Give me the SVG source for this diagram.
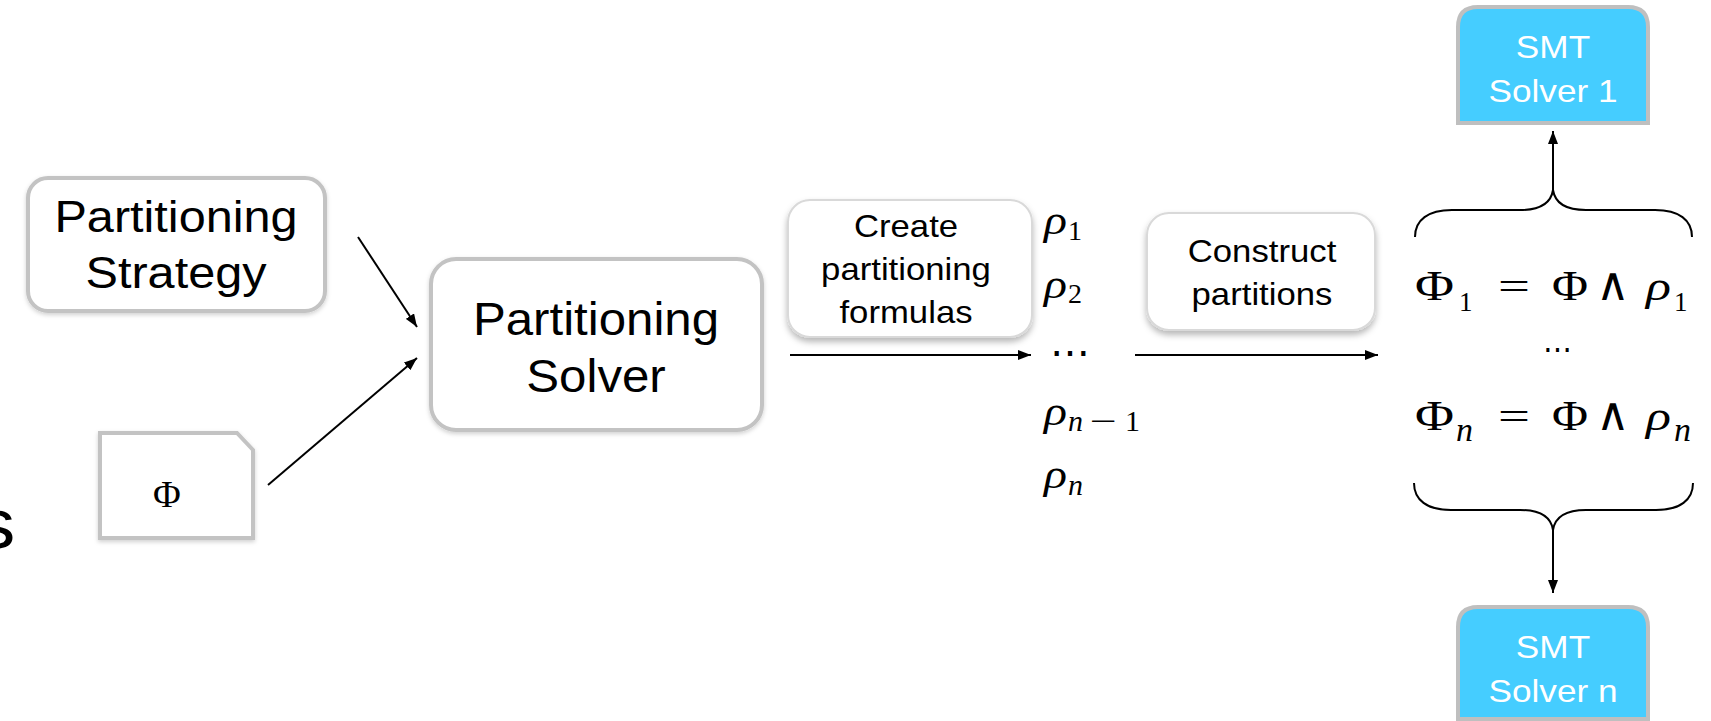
<svg xmlns="http://www.w3.org/2000/svg" width="1711" height="721" viewBox="0 0 1711 721">
<defs>
<style>
.box{fill:#fff;stroke:#c3c3c3;stroke-width:4}
.sbox{fill:#fff;stroke:#d9d9d9;stroke-width:2}
.smt{fill:#45cdff;stroke:#bfbfbf;stroke-width:4}
.t{font-family:"Liberation Sans",Arial,sans-serif;fill:#000;text-anchor:middle}
.w{fill:#fff}
.m{font-family:"Liberation Serif","DejaVu Serif",serif;fill:#000}
.i{font-style:italic}
.c{fill:none;stroke:#000;stroke-width:2}
</style>
<filter id="sh" x="-10%" y="-10%" width="120%" height="130%"><feDropShadow dx="0" dy="4" stdDeviation="3" flood-color="#000" flood-opacity="0.28"/></filter>
<filter id="sh2" x="-10%" y="-10%" width="120%" height="130%"><feDropShadow dx="0" dy="2" stdDeviation="2" flood-color="#000" flood-opacity="0.18"/></filter>
<marker id="ah" markerUnits="userSpaceOnUse" markerWidth="13" markerHeight="10" refX="13" refY="5" orient="auto"><path d="M0,0 L13,5 L0,10 z" fill="#000"/></marker>
</defs>

<text class="t" font-size="70" transform="matrix(1.1 0 0 1 -4 0)" x="0" y="548">s</text>

<g id="strategy">
<rect class="box" x="28" y="178" width="297" height="133" rx="20" filter="url(#sh2)"/>
<text class="t" font-size="45" transform="matrix(1.08 0 0 1 176 0)"><tspan x="0" y="232">Partitioning</tspan><tspan x="0" y="288">Strategy</tspan></text>
</g>

<g id="phi">
<path class="box" d="M100,433 L237,433 L253,450 L253,538 L100,538 Z" stroke-width="5" filter="url(#sh2)"/>
<text class="m" font-size="38" x="167" y="507" text-anchor="middle">Φ</text>
</g>

<g id="solver">
<rect class="box" x="431" y="259" width="331" height="171" rx="25" filter="url(#sh2)"/>
<text class="t" font-size="46" transform="matrix(1.07 0 0 1 596 0)"><tspan x="0" y="335">Partitioning</tspan><tspan x="0" y="392">Solver</tspan></text>
</g>

<g id="create">
<rect class="sbox" x="788" y="200" width="244" height="137" rx="22" filter="url(#sh)"/>
<text class="t" font-size="31" transform="matrix(1.12 0 0 1 906 0)"><tspan x="0" y="237">Create</tspan><tspan x="0" y="280">partitioning</tspan><tspan x="0" y="323">formulas</tspan></text>
</g>

<g id="rhos">
<text class="m i" font-size="40" x="1044" y="234" textLength="23" lengthAdjust="spacingAndGlyphs">ρ</text><text class="m" font-size="28" x="1068" y="240">1</text>
<text class="m i" font-size="40" x="1044" y="298" textLength="23" lengthAdjust="spacingAndGlyphs">ρ</text><text class="m" font-size="28" x="1068" y="303">2</text>
<text class="m" font-size="40" x="1070" y="366" text-anchor="middle" textLength="40" lengthAdjust="spacingAndGlyphs">⋯</text>
<text class="m i" font-size="40" x="1044" y="425" textLength="23" lengthAdjust="spacingAndGlyphs">ρ</text>
<text class="m i" font-size="30" x="1068" y="431">n</text>
<text class="m" font-size="30" x="1090" y="431" textLength="27" lengthAdjust="spacingAndGlyphs">−</text>
<text class="m" font-size="30" x="1125" y="431">1</text>
<text class="m i" font-size="40" x="1044" y="488" textLength="23" lengthAdjust="spacingAndGlyphs">ρ</text><text class="m i" font-size="30" x="1068" y="495">n</text>
</g>

<g id="construct">
<rect class="sbox" x="1147" y="213" width="228" height="117" rx="22" filter="url(#sh)"/>
<text class="t" font-size="31" transform="matrix(1.12 0 0 1 1262 0)"><tspan x="0" y="262">Construct</tspan><tspan x="0" y="305">partitions</tspan></text>
</g>

<g id="formulas">
<text class="m" font-size="43" x="1415" y="300" textLength="39" lengthAdjust="spacingAndGlyphs">Φ</text>
<text class="m" font-size="27" x="1459" y="311">1</text>
<text class="m" font-size="40" x="1498" y="300" textLength="32" lengthAdjust="spacingAndGlyphs">=</text>
<text class="m" font-size="43" x="1552" y="300" textLength="36" lengthAdjust="spacingAndGlyphs">Φ</text>
<text class="m" font-size="46" x="1596" y="300">∧</text>
<text class="m i" font-size="42" x="1646" y="300" textLength="25" lengthAdjust="spacingAndGlyphs">ρ</text>
<text class="m" font-size="27" x="1674" y="311">1</text>
<text class="m" font-size="32" x="1557" y="360" text-anchor="middle" textLength="29" lengthAdjust="spacingAndGlyphs">⋯</text>
<text class="m" font-size="43" x="1415" y="430" textLength="39" lengthAdjust="spacingAndGlyphs">Φ</text>
<text class="m i" font-size="34" x="1456" y="441">n</text>
<text class="m" font-size="40" x="1498" y="430" textLength="32" lengthAdjust="spacingAndGlyphs">=</text>
<text class="m" font-size="43" x="1552" y="430" textLength="36" lengthAdjust="spacingAndGlyphs">Φ</text>
<text class="m" font-size="46" x="1596" y="430">∧</text>
<text class="m i" font-size="42" x="1646" y="430" textLength="25" lengthAdjust="spacingAndGlyphs">ρ</text>
<text class="m i" font-size="34" x="1674" y="441">n</text>
</g>

<g id="smt1">
<path class="smt" d="M1458,123 L1458,27 Q1458,7 1478,7 L1628,7 Q1648,7 1648,27 L1648,123 Z"/>
<text class="t w" font-size="32" transform="matrix(1.1 0 0 1 1553 0)"><tspan x="0" y="58">SMT</tspan><tspan x="0" y="102">Solver 1</tspan></text>
</g>

<g id="smtn">
<path class="smt" d="M1458,719 L1458,627 Q1458,607 1478,607 L1628,607 Q1648,607 1648,627 L1648,719 Z"/>
<text class="t w" font-size="32" transform="matrix(1.1 0 0 1 1553 0)"><tspan x="0" y="658">SMT</tspan><tspan x="0" y="702">Solver n</tspan></text>
</g>

<g id="connectors">
<line class="c" x1="358" y1="237" x2="417" y2="327" marker-end="url(#ah)"/>
<line class="c" x1="268" y1="485" x2="417" y2="358" marker-end="url(#ah)"/>
<line class="c" x1="790" y1="355" x2="1031" y2="355" marker-end="url(#ah)"/>
<line class="c" x1="1135" y1="355" x2="1378" y2="355" marker-end="url(#ah)"/>
<path class="c" d="M1415,237 C1415,220 1428,210 1452,210 L1520,210 C1540,210 1551,203 1553,190 C1555,203 1566,210 1586,210 L1655,210 C1679,210 1692,220 1692,237"/>
<path class="c" d="M1414,483 C1414,500 1427,510 1451,510 L1520,510 C1540,510 1551,517 1553,530 C1555,517 1566,510 1586,510 L1656,510 C1680,510 1693,500 1693,483"/>
<line class="c" x1="1553" y1="190" x2="1553" y2="131" marker-end="url(#ah)"/>
<line class="c" x1="1553" y1="530" x2="1553" y2="593" marker-end="url(#ah)"/>
</g>
</svg>
